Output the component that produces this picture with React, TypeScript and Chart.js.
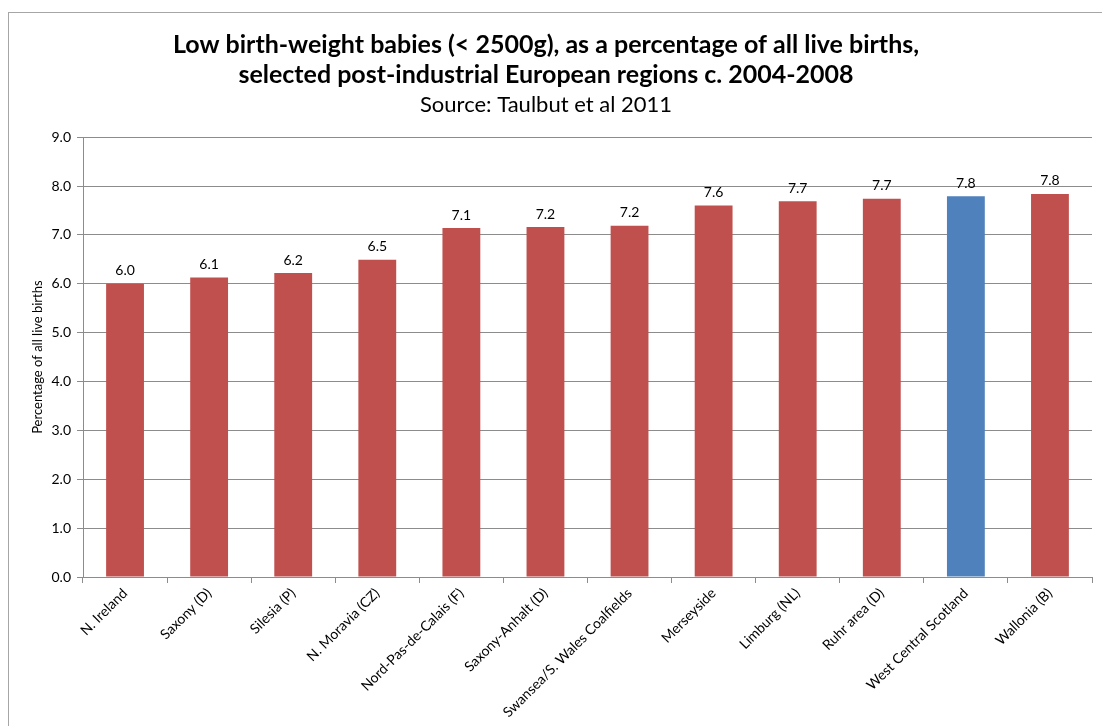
import React, { useEffect, useRef } from "react";
import { Chart, registerables } from "chart.js";

Chart.register(...registerables);

const categories = [
  "N. Ireland",
  "Saxony (D)",
  "Silesia (P)",
  "N. Moravia (CZ)",
  "Nord-Pas-de-Calais (F)",
  "Saxony-Anhalt (D)",
  "Swansea/S. Wales Coalfields",
  "Merseyside",
  "Limburg (NL)",
  "Ruhr area (D)",
  "West Central Scotland",
  "Wallonia (B)",
];
const values = [6.0, 6.13, 6.22, 6.49, 7.14, 7.16, 7.19, 7.6, 7.69, 7.74, 7.79, 7.84];
const highlighted = "West Central Scotland";
const titleLines = [
  "Low birth-weight babies (< 2500g), as a percentage of all live births,",
  "selected post-industrial European regions c. 2004-2008",
];
const subtitleText = "Source: Taulbut et al 2011";
const yAxisTitle = "Percentage of all live births";

const RED = "#C0504D";
const BLUE = "#4F81BD";
const GRID = "#8c8c8c";
const FONT = "Lato, 'Open Sans', sans-serif";

const W = 1102;
const H = 726;
const PLOT_LEFT = 83;
const PLOT_BOTTOM = 577;

const dataLabels = {
  id: "dataLabels",
  afterDatasetsDraw(chart: any) {
    const ctx = chart.ctx;
    const meta = chart.getDatasetMeta(0);
    ctx.save();
    ctx.font = `14px ${FONT}`;
    ctx.fillStyle = "#000";
    ctx.textAlign = "center";
    ctx.textBaseline = "bottom";
    meta.data.forEach((bar: any, i: number) => {
      const v = chart.data.datasets[0].data[i] as number;
      ctx.fillText(v.toFixed(1), bar.x, bar.y - 6);
    });
    ctx.restore();
  },
};

export default function App() {
  const ref = useRef<HTMLCanvasElement>(null);
  useEffect(() => {
    if (!ref.current) return;
    const chart = new Chart(ref.current, {
      type: "bar",
      data: {
        labels: categories,
        datasets: [
          {
            data: values,
            backgroundColor: categories.map((c) => (c === highlighted ? BLUE : RED)),
            barPercentage: 0.45,
            categoryPercentage: 1,
          },
        ],
      },
      options: {
        responsive: false,
        animation: false,
        layout: { padding: { top: 0, left: 0, right: 10, bottom: 0 } },
        plugins: {
          legend: { display: false },
          tooltip: { enabled: false },
          title: {
            display: true,
            text: titleLines,
            color: "#000",
            font: { family: FONT, size: 25, weight: "bold", lineHeight: 1.2 },
            padding: { top: 30, bottom: 0 },
          },
          subtitle: {
            display: true,
            text: subtitleText,
            color: "#000",
            font: { family: FONT, size: 22, weight: "normal", lineHeight: 1.1 },
            padding: { top: 3, bottom: 20 },
          },
        },
        scales: {
          x: {
            grid: {
              offset: true,
              drawOnChartArea: false,
              tickLength: 6,
              color: GRID,
            },
            border: { color: GRID },
            ticks: {
              autoSkip: false,
              minRotation: 45,
              maxRotation: 45,
              color: "#000",
              font: { family: FONT, size: 14 },
              padding: 2,
            },
            afterFit(scale: any) {
              scale.height = H - PLOT_BOTTOM;
            },
          },
          y: {
            min: 0,
            max: 9,
            grid: { color: GRID, tickLength: 6 },
            border: { color: GRID },
            ticks: {
              stepSize: 1,
              color: "#000",
              font: { family: FONT, size: 14 },
              padding: 6,
              callback: (v: any) => Number(v).toFixed(1),
            },
            title: {
              display: true,
              text: yAxisTitle,
              color: "#000",
              font: { family: FONT, size: 13, lineHeight: 1.2 },
              padding: { top: 30, bottom: 4 },
            },
            afterFit(scale: any) {
              scale.width = PLOT_LEFT;
            },
          },
        },
      },
      plugins: [dataLabels],
    });
    return () => chart.destroy();
  }, []);

  return (
    <>
      <div
        style={{
          position: "fixed",
          left: 8,
          top: 12,
          right: -20,
          bottom: -20,
          border: "1px solid #a6a6a6",
          background: "#fff",
        }}
      />
      <canvas
        ref={ref}
        width={W}
        height={H}
        style={{ position: "fixed", left: 0, top: 0, width: W, height: H }}
      />
    </>
  );
}
